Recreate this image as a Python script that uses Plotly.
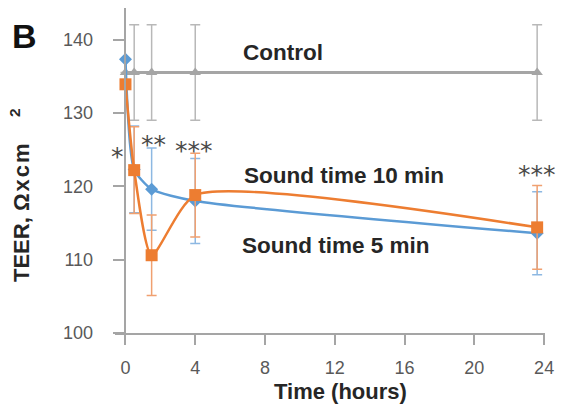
import plotly.graph_objects as go

# ---- data ----
time_h = [0, 0.5, 1.5, 4, 23.6]
control = [135.5, 135.5, 135.5, 135.5, 135.5]
control_err = [0, 6.5, 6.5, 6.5, 6.5]
sound_blue = [137.3, 122.3, 119.6, 118.0, 113.6]
sound_blue_err = [0, 5.9, 5.6, 5.8, 5.65]
sound_orange = [133.9, 122.2, 110.6, 118.8, 114.4]
sound_orange_err = [0, 5.9, 5.5, 5.7, 5.7]
x_ticks = [0, 4, 8, 12, 16, 20, 24]
y_ticks = [100, 110, 120, 130, 140]

W, H = 567, 407
L, R, T, B = 115, 22, 8, 74
PW, PH = W - L - R, H - T - B

def px(x):
    return (x - L) / PW

def py(y):
    return (H - B - y) / PH

FONT = "Liberation Sans, Arial, sans-serif"
GRAY = "#A5A5A5"
BLUE = "#5B9BD5"
ORANGE = "#ED7D31"
TXT = "#262626"

fig = go.Figure()

fig.add_trace(go.Scatter(
    x=time_h, y=control, mode="lines+markers",
    line=dict(color=GRAY, width=3),
    marker=dict(symbol="triangle-up", size=10, color=GRAY),
    error_y=dict(type="data", array=control_err, color="#B8B8B8", thickness=1.5, width=5),
    showlegend=False, cliponaxis=False))

fig.add_trace(go.Scatter(
    x=time_h, y=sound_blue, mode="lines+markers",
    line=dict(color=BLUE, width=2.5, shape="spline", smoothing=0.6),
    marker=dict(symbol="diamond", size=10, color=BLUE),
    error_y=dict(type="data", array=sound_blue_err, color="#8DB8E2", thickness=1.5, width=5),
    showlegend=False, cliponaxis=False))

fig.add_trace(go.Scatter(
    x=time_h, y=sound_orange, mode="lines+markers",
    line=dict(color=ORANGE, width=2.5, shape="spline", smoothing=0.6),
    marker=dict(symbol="square", size=12, color=ORANGE),
    error_y=dict(type="data", array=sound_orange_err, color="#F0A070", thickness=1.5, width=5),
    showlegend=False, cliponaxis=False))

ann = []
def add_text(x, y, text, size, color=TXT, bold=True, angle=0, family=FONT):
    t = f"<b>{text}</b>" if bold else text
    ann.append(dict(x=px(x), y=py(y), xref="paper", yref="paper", text=t,
                    showarrow=False, textangle=angle, xanchor="center", yanchor="middle",
                    font=dict(size=size, color=color, family=family)))

add_text(24, 36, "B", 34, color="#111111")
add_text(20, 195, 'TEER, <span style="letter-spacing:2px">Ωxcm</span>&nbsp;&nbsp;&nbsp;&nbsp;<sup>2</sup>',
         22, angle=-90)
add_text(283, 52, "Control", 22.5)
add_text(344, 175, "Sound time 10 min", 22.5)
add_text(336, 245, "Sound time 5 min", 22.5)
add_text(340, 392, "Time (hours)", 22)
ast_font = "DejaVu Sans, sans-serif"
add_text(117, 156, "*", 25, color="#4A4A4A", bold=False, family=ast_font)
add_text(153, 144, "**", 25, color="#4A4A4A", bold=False, family=ast_font)
add_text(194, 150, "***", 25, color="#4A4A4A", bold=False, family=ast_font)
add_text(537, 174, "***", 25, color="#4A4A4A", bold=False, family=ast_font)

fig.update_layout(
    width=W, height=H,
    margin=dict(l=L, r=R, t=T, b=B, pad=0),
    paper_bgcolor="white", plot_bgcolor="white",
    font=dict(family=FONT, color="#595959"),
    annotations=ann,
    xaxis=dict(range=[-0.6, 24.05], tickvals=x_ticks, ticktext=[str(v) for v in x_ticks],
               showgrid=False, zeroline=False, showline=True, linecolor=GRAY, linewidth=1.5,
               ticks="outside", ticklen=10, tickwidth=1.5, tickcolor=GRAY,
               tickfont=dict(size=18, color="#595959"), ticklabelstandoff=8),
    yaxis=dict(range=[100, 144.3], tickvals=y_ticks, anchor="free", position=0.6 / 24.65,
               showgrid=False, zeroline=False, showline=True, linecolor=GRAY, linewidth=1.5,
               ticks="outside", ticklen=12, tickwidth=1.5, tickcolor=GRAY,
               tickfont=dict(size=18, color="#595959"), ticklabelstandoff=16),
)

fig.write_html("out.html", config={"displayModeBar": False},
               post_script="document.body.style.margin='0';")
